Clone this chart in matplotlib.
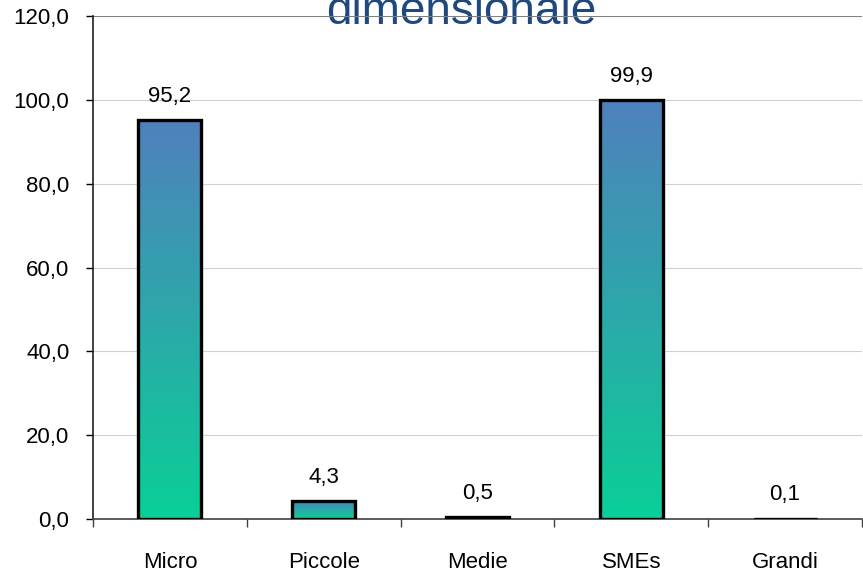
import numpy as np
import matplotlib.pyplot as plt
from matplotlib.colors import LinearSegmentedColormap

categories = ['Micro', 'Piccole', 'Medie', 'SMEs', 'Grandi']
values = [95.2, 4.3, 0.5, 99.9, 0.1]
value_labels = ['95,2', '4,3', '0,5', '99,9', '0,1']
yticks = [0, 20, 40, 60, 80, 100, 120]
ytick_labels = ['0,0', '20,0', '40,0', '60,0', '80,0', '100,0', '120,0']

plt.rcParams['font.family'] = ['Liberation Sans', 'DejaVu Sans']

fig = plt.figure(figsize=(8.63, 5.74), dpi=100)
ax = fig.add_axes([0.1078, 0.0958, 0.8910, 0.8763])
ax.patch.set_alpha(0)

grad = LinearSegmentedColormap.from_list('g', ['#0ACF97', '#4F81BD'])
x = np.arange(len(categories))
width = 0.41

# gradient fill for each bar, blue on top and green at the bottom
for i, v in enumerate(values):
    img = np.linspace(0, 1, 100).reshape(-1, 1)
    ax.imshow(img, cmap=grad, origin='lower', aspect='auto',
              extent=(x[i] - width / 2, x[i] + width / 2, 0, v), zorder=2)
bars = ax.bar(x, values, width=width, facecolor='none', edgecolor='black',
              linewidth=2.4, zorder=3)

for i, v in enumerate(values):
    ax.annotate(value_labels[i], (x[i], v), xytext=(0, 9.5), textcoords='offset points',
                ha='center', va='bottom', fontsize=16, color='black')

ax.set_xlim(-0.5, len(categories) - 0.5)
ax.set_ylim(0, 120)
ax.set_yticks(yticks)
ax.set_yticklabels(ytick_labels, fontsize=16)
ax.set_xticks(x)
ax.set_xticklabels(categories, fontsize=16)
ax.set_xticks(np.arange(-0.5, len(categories) + 0.5, 1), minor=True)
ax.tick_params(axis='x', which='major', length=0, pad=24)
ax.tick_params(axis='x', which='minor', length=6, width=1, color='#404040', direction='out')
ax.tick_params(axis='y', length=5, width=1, direction='out', pad=12)

for yv in yticks[1:-1]:
    ax.axhline(yv, color='#D0D0D0', linewidth=0.8, zorder=0)
ax.axhline(120, color='#808080', linewidth=1.5, zorder=0)

ax.spines['top'].set_visible(False)
ax.spines['right'].set_visible(False)
ax.spines['left'].set_color('#202020')
ax.spines['bottom'].set_color('#404040')
ax.spines['left'].set_linewidth(1.2)
ax.spines['bottom'].set_linewidth(1.2)

# title is partly above the top edge, as in the original; drawn under the top line
fig.text(0.534, 1.0 - 24 / 574, 'dimensionale', ha='center', va='baseline',
         fontsize=33, color='#1F497D', zorder=-1)

fig.savefig('out.png', dpi=100)
